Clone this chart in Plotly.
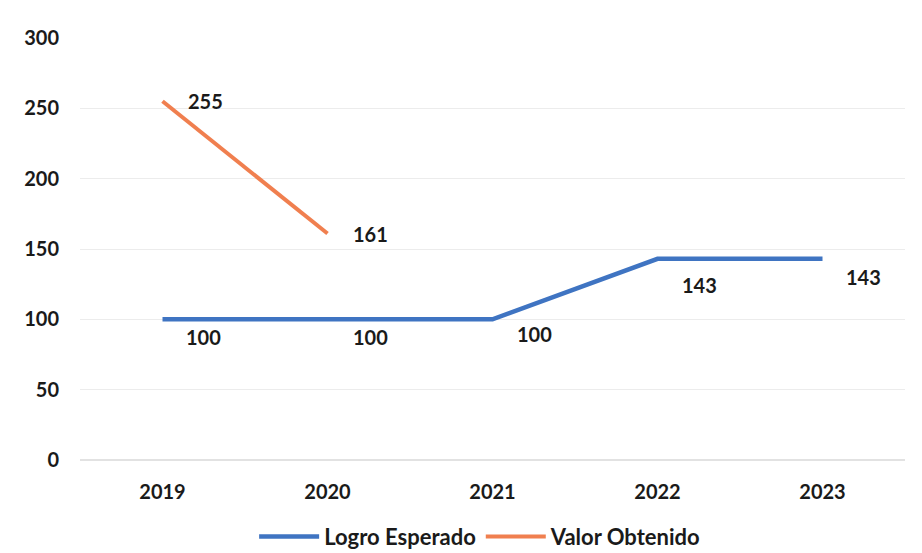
import plotly.graph_objects as go

years = ['2019', '2020', '2021', '2022', '2023']
logro_esperado = [100, 100, 100, 143, 143]
valor_obtenido = [255, 161]
y_ticks = [0, 50, 100, 150, 200, 250, 300]

blue = '#3F74C2'
orange = '#F07F4F'
font_family = 'Lato, Open Sans, sans-serif'

fig = go.Figure()
fig.add_trace(go.Scatter(x=years, y=logro_esperado, mode='lines', name='Logro Esperado',
                         line=dict(color=blue, width=4.5)))
fig.add_trace(go.Scatter(x=years[:len(valor_obtenido)], y=valor_obtenido, mode='lines',
                         name='Valor Obtenido', line=dict(color=orange, width=4)))

# etiquetas de datos, desplazadas a la derecha de cada punto (x por índice de categoría)
shifts_blue = [(41, -18), (43, -18), (42, -15), (42, -26), (41, -18)]
for i, (v, (dx, dy)) in enumerate(zip(logro_esperado, shifts_blue)):
    fig.add_annotation(x=i, y=v, text=str(v), showarrow=False, xshift=dx, yshift=dy,
                       font=dict(size=20, color='#1a1a1a', family=font_family, weight='bold'))
for i, v in enumerate(valor_obtenido):
    fig.add_annotation(x=i, y=v, text=str(v), showarrow=False, xshift=43, yshift=0,
                       font=dict(size=20, color='#1a1a1a', family=font_family, weight='bold'))

# la página añade 8 px de margen al cuerpo; se compensa aquí
fig.update_layout(
    width=922, height=553,
    margin=dict(l=72, r=25, t=30, b=101, autoexpand=False),
    paper_bgcolor='white', plot_bgcolor='white',
    font=dict(family=font_family, size=20, color='#1a1a1a', weight='bold'),
    showlegend=True,
    legend=dict(orientation='h', x=0.485, xanchor='center', y=-0.132, yanchor='top',
                font=dict(size=22, weight='bold'), itemwidth=60, tracegroupgap=0),
)
fig.update_xaxes(type='category', range=[-0.5, 4.5], showgrid=False, showline=False,
                 zeroline=False, ticklabelstandoff=18, automargin=False,
                 tickfont=dict(size=20, weight='bold'))
fig.update_yaxes(range=[0, 300], tickvals=y_ticks, showgrid=True, gridcolor='#ECECEC',
                 gridwidth=1, zeroline=True, zerolinecolor='#E2E2E2', showline=False,
                 ticklabelstandoff=20, automargin=False, tickfont=dict(size=20, weight='bold'))

fig.write_html("out.html")
